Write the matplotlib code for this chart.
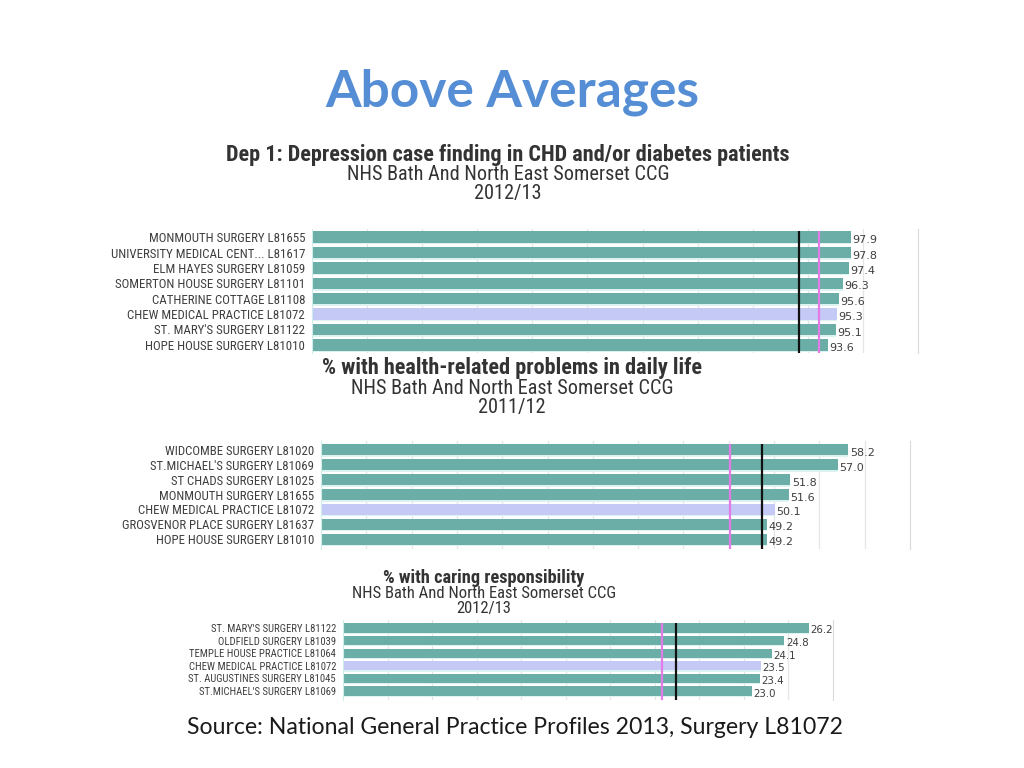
import matplotlib
matplotlib.use("Agg")
import matplotlib.pyplot as plt
from matplotlib import font_manager as fm

# ---------------- data ----------------
p1_title = "Dep 1: Depression case finding in CHD and/or diabetes patients"
p1_sub = "NHS Bath And North East Somerset CCG"
p1_year = "2012/13"
p1_labels = ["MONMOUTH SURGERY L81655", "UNIVERSITY MEDICAL CENT... L81617",
             "ELM HAYES SURGERY L81059", "SOMERTON HOUSE SURGERY L81101",
             "CATHERINE COTTAGE L81108", "CHEW MEDICAL PRACTICE L81072",
             "ST. MARY'S SURGERY L81122", "HOPE HOUSE SURGERY L81010"]
p1_values = [97.9, 97.8, 97.4, 96.3, 95.6, 95.3, 95.1, 93.6]
p1_black = 88.4
p1_magenta = 92.0

p2_title = "% with health-related problems in daily life"
p2_sub = "NHS Bath And North East Somerset CCG"
p2_year = "2011/12"
p2_labels = ["WIDCOMBE SURGERY L81020", "ST.MICHAEL'S SURGERY L81069",
             "ST CHADS SURGERY L81025", "MONMOUTH SURGERY L81655",
             "CHEW MEDICAL PRACTICE L81072", "GROSVENOR PLACE SURGERY L81637",
             "HOPE HOUSE SURGERY L81010"]
p2_values = [58.2, 57.0, 51.8, 51.6, 50.1, 49.2, 49.2]
p2_black = 48.7
p2_magenta = 45.1

p3_title = "% with caring responsibility"
p3_sub = "NHS Bath And North East Somerset CCG"
p3_year = "2012/13"
p3_labels = ["ST. MARY'S SURGERY L81122", "OLDFIELD SURGERY L81039",
             "TEMPLE HOUSE PRACTICE L81064", "CHEW MEDICAL PRACTICE L81072",
             "ST. AUGUSTINES SURGERY L81045", "ST.MICHAEL'S SURGERY L81069"]
p3_values = [26.2, 24.8, 24.1, 23.5, 23.4, 23.0]
p3_black = 18.7
p3_magenta = 17.9

highlight = "CHEW MEDICAL PRACTICE L81072"

# ---------------- fonts ----------------
names = {f.name for f in fm.fontManager.ttflist}
narrow = None
for cand in ["Liberation Sans Narrow", "DejaVu Sans Condensed", "Roboto Condensed"]:
    if cand in names:
        narrow = cand
        break
if narrow is None:
    narrow = "DejaVu Sans"
    narrow_scale = 0.86
else:
    narrow_scale = 1.0
title_font = "Lato" if "Lato" in names else "DejaVu Sans"

W, H = 1024, 768
fig = plt.figure(figsize=(10.24, 7.68), dpi=100)
fig.patch.set_facecolor("white")

TEAL = "#6BAEA7"
LAV = "#C4C9F6"
PALE = "#DDF3F1"
GRID = "#E2E6E6"
TXT = "#3F3F3F"


def px_axes(x0, y0, x1, y1):
    return fig.add_axes([x0 / W, 1 - y1 / H, (x1 - x0) / W, (y1 - y0) / H])


def panel(box, labels, values, xmax, step, black, magenta, ytop, ybot,
          title, sub, year, cx, ty, sy, yy, tsize, ssize, lsize, vsize):
    ax = px_axes(*box)
    n = len(labels)
    ys = list(range(n))
    ax.set_xlim(0, xmax)
    ax.set_ylim(ybot, ytop)
    for x in [step * k for k in range(1, int(round(xmax / step)))]:
        ax.axvline(x, color=GRID, lw=0.9, zorder=0)
    colors = [LAV if l == highlight else TEAL for l in labels]
    bh = 0.74
    ax.barh([y + 0.1 for y in ys], values, height=bh, color=PALE, zorder=1)
    ax.barh(ys, values, height=bh, color=colors, zorder=2)
    ax.vlines([black], -0.42, ybot, color="#111111", lw=1.6, zorder=4)
    ax.vlines([magenta], -0.42, ybot, color="#E27BE6", lw=1.6, zorder=3)
    for y, v in zip(ys, values):
        ax.annotate(f"{v:.1f}", (v, y + 0.2), xytext=(1.0, 0),
                    textcoords="offset points", va="center", ha="left",
                    fontsize=vsize, color=TXT, family="DejaVu Sans", zorder=5)
    ax.set_yticks(ys)
    ax.set_yticklabels(labels, fontsize=lsize * narrow_scale, family=narrow, color=TXT)
    ax.tick_params(axis="y", length=0, pad=5)
    ax.set_xticks([])
    for s in ["top", "bottom"]:
        ax.spines[s].set_visible(False)
    ax.spines["left"].set_color("#CDECEA")
    ax.spines["right"].set_color("#DADADA")
    ax.patch.set_alpha(0)
    fig.text(cx / W, 1 - ty / H, title, ha="center", va="center",
             fontsize=tsize * narrow_scale, fontweight="bold", family=narrow, color="#333333")
    fig.text(cx / W, 1 - sy / H, sub, ha="center", va="center",
             fontsize=ssize * narrow_scale, family=narrow, color="#333333")
    fig.text(cx / W, 1 - yy / H, year, ha="center", va="center",
             fontsize=ssize * narrow_scale, family=narrow, color="#333333")
    return ax


panel((312, 229, 918, 353), p1_labels, p1_values, 110, 10, p1_black, p1_magenta,
      -0.53, 7.53, p1_title, p1_sub, p1_year, 508, 155, 174, 193,
      16.0, 14.6, 9.3, 8.0)
panel((321, 441, 910, 549), p2_labels, p2_values, 65, 5, p2_black, p2_magenta,
      -0.6, 6.66, p2_title, p2_sub, p2_year, 512, 368, 388, 407,
      16.0, 14.6, 9.2, 8.0)
panel((343, 620, 832.5, 700), p3_labels, p3_values, 27.5, 2.5, p3_black, p3_magenta,
      -0.63, 5.71, p3_title, p3_sub, p3_year, 484, 578, 594, 609,
      13.2, 12.0, 7.7, 7.4)

fig.text(512 / W, 1 - 107 / H, "Above Averages", ha="center", va="baseline",
         fontsize=37, fontweight="bold", family=title_font, color="#558ED5")
fig.text(515 / W, 1 - 734 / H,
         "Source: National General Practice Profiles 2013, Surgery L81072",
         ha="center", va="baseline", fontsize=16.6, family=title_font, color="#1A1A1A")

fig.savefig("out.png", dpi=100, facecolor="white")
